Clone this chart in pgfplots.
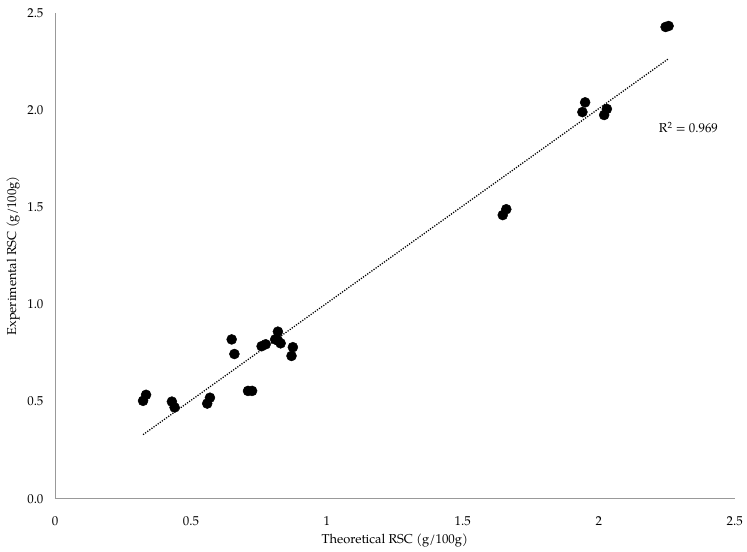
\documentclass[border=0pt]{standalone}
\usepackage{fontspec}
\setmainfont{TeX Gyre Pagella}
\usepackage{pgfplots}
\pgfplotsset{compat=1.18}
\begin{document}
\fontsize{11}{13}\selectfont
\begin{tikzpicture}[x=0.3mm,y=0.3mm]
\begin{axis}[
  at={(0,0)}, anchor=south west,
  width=204mm, height=145.8mm, scale only axis,
  xmin=0, xmax=2.5, ymin=0, ymax=2.5,
  axis lines=left,
  axis line style={-, draw=gray!80, line width=0.6pt},
  xtick={0,0.5,1,1.5,2,2.5},
  ytick={0,0.5,1,1.5,2,2.5},
  major tick length=0pt,
  xticklabel style={/pgf/number format/assume math mode=true, /pgf/number format/fixed, yshift=-11pt},
  yticklabel style={/pgf/number format/assume math mode=true, /pgf/number format/fixed, /pgf/number format/fixed zerofill, /pgf/number format/precision=1, xshift=-6pt},
  xlabel={Theoretical RSC (g/100g)},
  ylabel={Experimental RSC (g/100g)},
  xlabel style={yshift=0pt},
  ylabel style={yshift=-1pt},
  clip=false,
]
\addplot[only marks, mark=*, mark size=1.5mm, black] coordinates {
(0.324,0.504) (0.335,0.535)
(0.43,0.50) (0.44,0.47)
(0.56,0.49) (0.57,0.52)
(0.65,0.82) (0.66,0.745)
(0.71,0.555) (0.725,0.555)
(0.76,0.785) (0.775,0.795)
(0.82,0.86) (0.81,0.82) (0.83,0.80) (0.82,0.815)
(0.875,0.78) (0.87,0.735)
(1.647,1.46) (1.66,1.49)
(1.95,2.04) (1.94,1.99)
(2.03,2.006) (2.02,1.975)
(2.246,2.428) (2.257,2.433)
};
\addplot[black, line width=1.1pt, dash pattern=on 1pt off 1.2pt] coordinates {(0.324,0.33) (2.257,2.265)};
\node[anchor=center] at (axis cs:2.33,1.91) {R\textsuperscript{2} = 0.969};
\end{axis}
\useasboundingbox (-55,-51) rectangle (692,499);
\end{tikzpicture}
\end{document}
